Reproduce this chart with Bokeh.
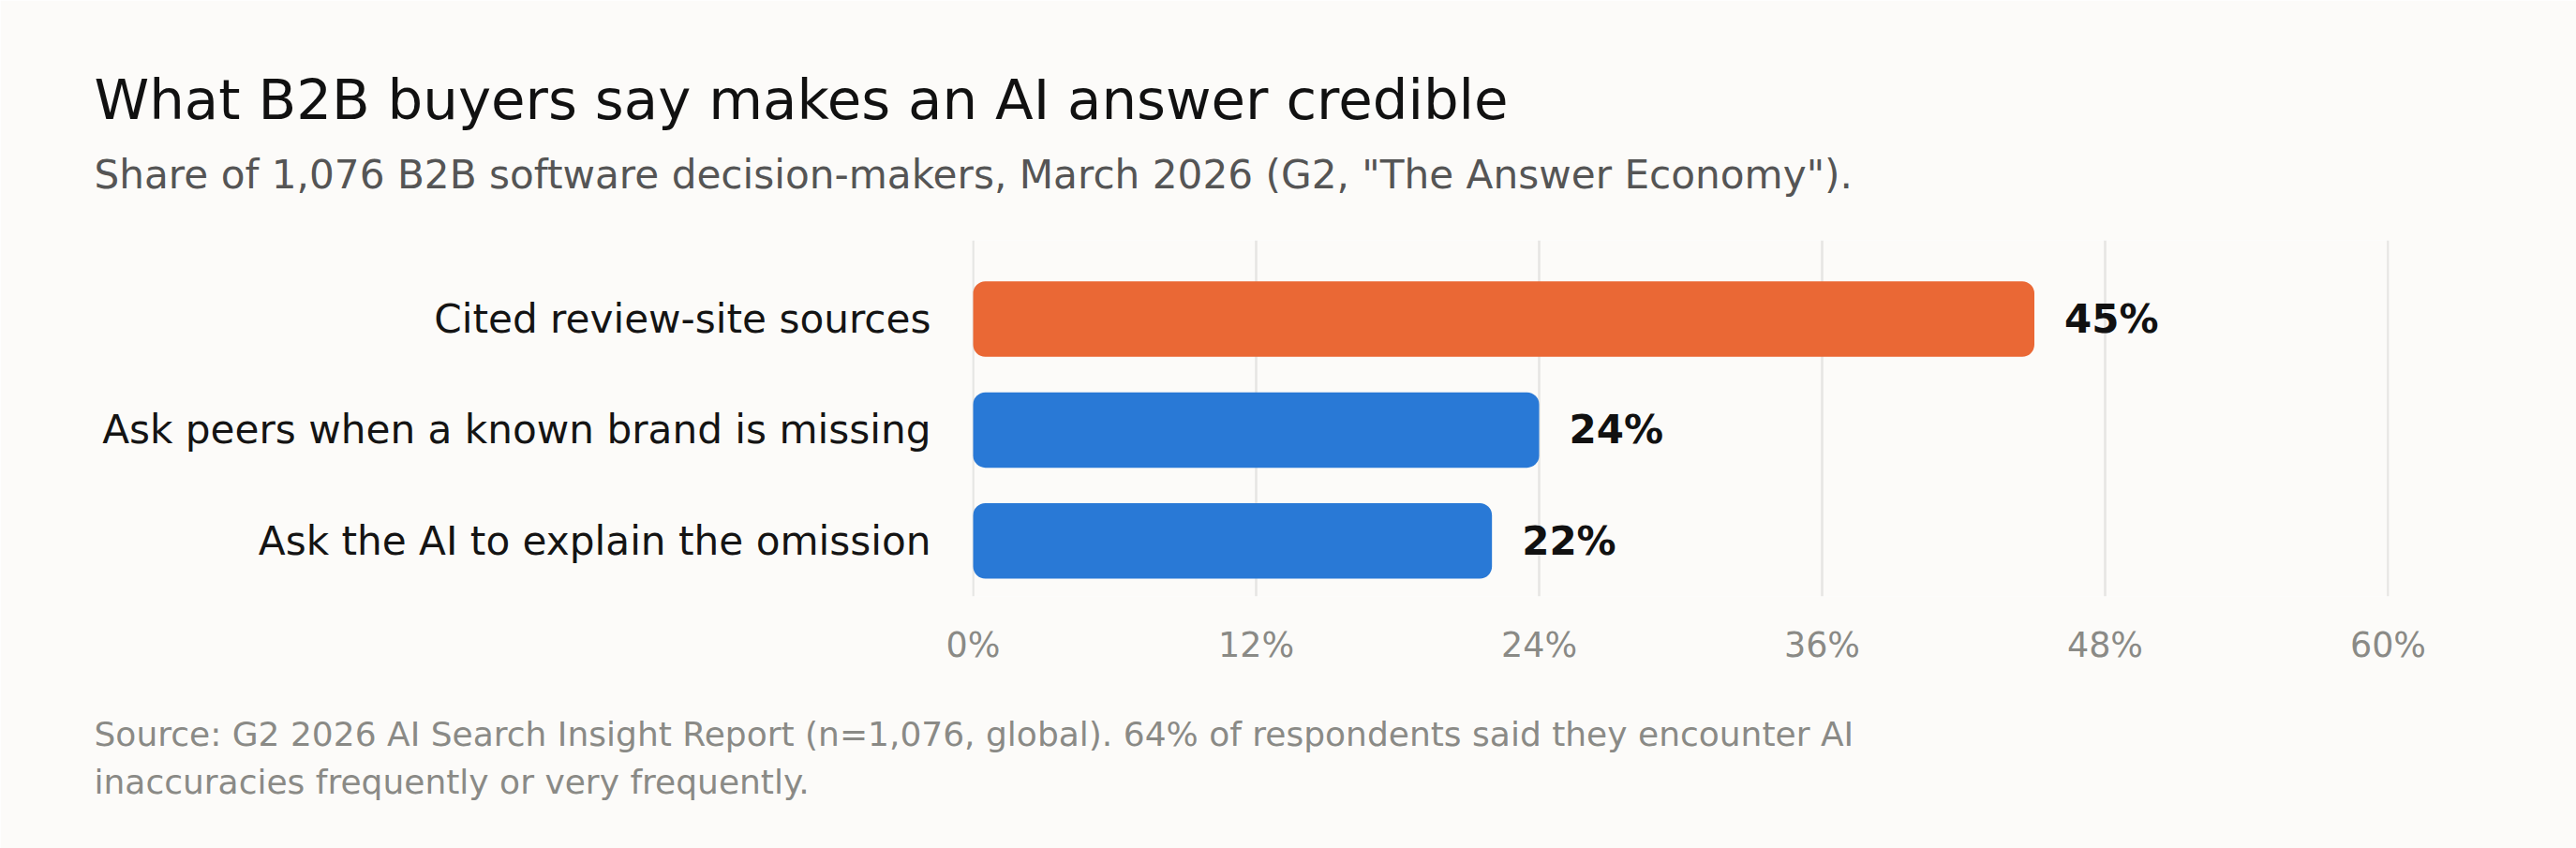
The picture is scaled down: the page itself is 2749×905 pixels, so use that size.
from bokeh.plotting import figure
from bokeh.models import Range1d, FixedTicker, PrintfTickFormatter, Title, ColumnDataSource
from bokeh.core.properties import value
from bokeh.embed import file_html
from bokeh.resources import INLINE

# ---- data ----
categories = ["Cited review-site sources",
              "Ask peers when a known brand is missing",
              "Ask the AI to explain the omission"]
shares = [45, 24, 22]
bar_colors = ["#EA6835", "#2979D6", "#2979D6"]
x_ticks = [0, 12, 24, 36, 48, 60]

title_text = "What B2B buyers say makes an AI answer credible"
subtitle_text = 'Share of 1,076 B2B software decision-makers, March 2026 (G2, "The Answer Economy").'
footer_lines = ["Source: G2 2026 AI Search Insight Report (n=1,076, global). 64% of respondents said they encounter AI",
                "inaccuracies frequently or very frequently."]

BG = "#FCFBF9"
FONT = "DejaVu Sans"

W, H = 2749, 905
left, right, top, bottom = 1037, 200, 256, 269
text_left = 100

n = len(categories)
ypos = [n - 1 - i for i in range(n)]  # first category at top
labels = [f"{v}%" for v in shares]

src = ColumnDataSource(dict(y=ypos, v=shares, c=bar_colors, lab=labels))

p = figure(width=W, height=H, output_backend="svg", toolbar_location=None,
           title=title_text,
           x_range=Range1d(-0.04, 60.04), y_range=Range1d(-0.5, n - 0.5 + 0.21),
           min_border_left=left, min_border_right=right,
           min_border_top=top, min_border_bottom=bottom,
           background_fill_color=BG, border_fill_color=BG, outline_line_color=None)

p.hbar(y="y", right="v", left=0, height=0.68, color="c", source=src,
       line_color=None, border_radius=13)

p.text(x="v", y="y", text="lab", source=src, x_offset=32,
       text_font=value(FONT), text_font_size="42px", text_font_style="bold",
       text_color="#111111", text_baseline="middle", text_align="left")

# x axis
p.xaxis.ticker = FixedTicker(ticks=x_ticks)
p.xaxis.formatter = PrintfTickFormatter(format="%d%%")
p.xaxis.axis_line_color = None
p.xaxis.major_tick_line_color = None
p.xaxis.minor_tick_line_color = None
p.xaxis.major_tick_out = 0
p.xaxis.major_label_standoff = 30
p.xaxis.major_label_text_font = FONT
p.xaxis.major_label_text_font_size = "36.5px"
p.xaxis.major_label_text_color = "#8A8A86"

# y axis
p.yaxis.ticker = FixedTicker(ticks=ypos)
p.yaxis.major_label_overrides = {y: c for y, c in zip(ypos, categories)}
p.yaxis.axis_line_color = None
p.yaxis.major_tick_line_color = None
p.yaxis.minor_tick_line_color = None
p.yaxis.major_tick_out = 0
p.yaxis.major_label_standoff = 44
p.yaxis.major_label_text_font = FONT
p.yaxis.major_label_text_font_size = "42.2px"
p.yaxis.major_label_text_color = "#141414"

p.xgrid.grid_line_color = "#E6E6E4"
p.xgrid.grid_line_width = 2.6
p.ygrid.grid_line_color = None

# main title (outermost above)
p.title.text_font = FONT
p.title.text_font_size = "59.4px"
p.title.text_font_style = "normal"
p.title.text_color = "#111111"
p.title.align = "left"
p.title.offset = text_left - left
p.title.standoff = -52

# subtitle (between title and plot)
p.add_layout(Title(text=subtitle_text, text_font=FONT, text_font_size="42.2px",
                   text_font_style="normal", text_color="#555555",
                   align="left", offset=text_left - left, standoff=91), "above")

# footer (below the x axis), two lines
p.add_layout(Title(text="\n".join(footer_lines), text_font=FONT, text_font_size="36px",
                   text_font_style="normal", text_color="#8A8A86", text_line_height=1.255,
                   align="left", offset=text_left - left, standoff=98), "below")

open("out.html", "w").write(file_html(p, INLINE))
